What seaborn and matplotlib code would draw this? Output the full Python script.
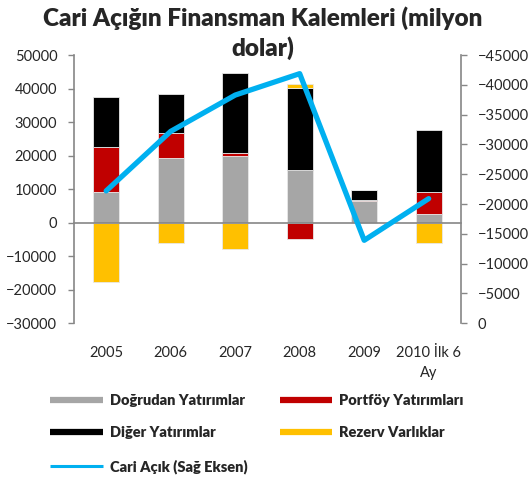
import numpy as np
import matplotlib.pyplot as plt
import seaborn as sns
from matplotlib.lines import Line2D

# data (milyon dolar)
years = ["2005", "2006", "2007", "2008", "2009", "2010 İlk 6\nAy"]
dogrudan = [9000, 19400, 20000, 15800, 6500, 2500]
portfoy = [13500, 7400, 700, -5000, 200, 6600]
diger = [14900, 11500, 24100, 24500, 2900, 18700]
rezerv = [-17700, -6000, -7900, 1200, 0, -6000]
cari_acik = [-22200, -32200, -38300, -41900, -13900, -20900]

series_names = ["Doğrudan Yatırımlar", "Portföy Yatırımları", "Diğer Yatırımlar", "Rezerv Varlıklar"]
series_vals = [dogrudan, portfoy, diger, rezerv]
colors = ["#A6A6A6", "#C00000", "#000000", "#FFC000"]
line_color = "#00B0F0"
line_name = "Cari Açık (Sağ Eksen)"

sns.set_style("white")
plt.rcParams["font.family"] = ["Lato", "DejaVu Sans"]
plt.rcParams["font.size"] = 10

fig = plt.figure(figsize=(5.28, 4.8), dpi=100)
ax = fig.add_axes([0.140, 0.327, 0.733, 0.558])

x = np.arange(len(years))
pos_base = np.zeros(len(years))
neg_base = np.zeros(len(years))
for name, vals, c in zip(series_names, series_vals, colors):
    v = np.array(vals, dtype=float)
    bottom = np.where(v >= 0, pos_base, neg_base)
    ax.bar(x, v, bottom=bottom, width=0.4, color=c, edgecolor="#e8e8e8", linewidth=0.6, zorder=2)
    pos_base = pos_base + np.where(v > 0, v, 0)
    neg_base = neg_base + np.where(v < 0, v, 0)

ax.set_xlim(-0.5, len(years) - 0.5)
ax.set_ylim(-30000, 50000)
ax.set_yticks(np.arange(-30000, 50001, 10000))

# x axis line at zero, category labels at the bottom
ax.spines["top"].set_visible(False)
ax.spines["right"].set_visible(False)
ax.spines["bottom"].set_position(("data", 0))
ax.spines["bottom"].set_color("#868686")
ax.spines["left"].set_color("#868686")
ax.spines["bottom"].set_linewidth(1.2)
ax.spines["left"].set_linewidth(1.2)
ax.set_xticks(x)
ax.set_xticklabels(years, fontsize=10.5, va="top", linespacing=1.5)
ax.set_xticks(np.arange(-0.5, len(years), 1), minor=True)
ax.tick_params(axis="x", which="major", length=0, pad=89)
ax.tick_params(axis="x", which="minor", length=4, width=1, color="#868686", direction="out")
ax.tick_params(axis="y", length=4, width=1, color="#868686", direction="out", labelsize=10.5, pad=8, left=True)
ax.set_xlabel("")
ax.set_ylabel("")

ax2 = ax.twinx()
sns.lineplot(x=x, y=cari_acik, ax=ax2, color=line_color, linewidth=3.8, zorder=3)
ax2.set_ylim(0, -45000)
ax2.set_yticks(np.arange(-45000, 1, 5000))
for s in ["top", "left", "bottom"]:
    ax2.spines[s].set_visible(False)
ax2.spines["right"].set_color("#868686")
ax2.spines["right"].set_linewidth(1.2)
ax2.tick_params(axis="y", length=4, width=1, color="#868686", direction="out", labelsize=10.5, pad=8, right=True)
ax2.set_ylabel("")

# title wraps onto two lines
fig.text(0.497, 0.946, "Cari Açığın Finansman Kalemleri (milyon", ha="center", va="baseline",
         fontsize=17.5, fontweight="heavy")
fig.text(0.497, 0.883, "dolar)", ha="center", va="baseline", fontsize=17.5, fontweight="heavy")

handles = [
    Line2D([], [], color=colors[0], linewidth=4.5, solid_capstyle="butt"),
    Line2D([], [], color=colors[2], linewidth=4.5, solid_capstyle="butt"),
    Line2D([], [], color=line_color, linewidth=2.2, solid_capstyle="butt"),
    Line2D([], [], color=colors[1], linewidth=4.5, solid_capstyle="butt"),
    Line2D([], [], color=colors[3], linewidth=4.5, solid_capstyle="butt"),
]
labels = [series_names[0], series_names[2], line_name, series_names[1], series_names[3]]
fig.legend(handles, labels, loc="upper left", bbox_to_anchor=(0.07, 0.207), ncol=2, frameon=False,
           handlelength=3.6, handletextpad=0.5, columnspacing=2.2, labelspacing=1.35,
           prop={"weight": "heavy", "size": 10.5})

fig.savefig("out.png", dpi=100)
